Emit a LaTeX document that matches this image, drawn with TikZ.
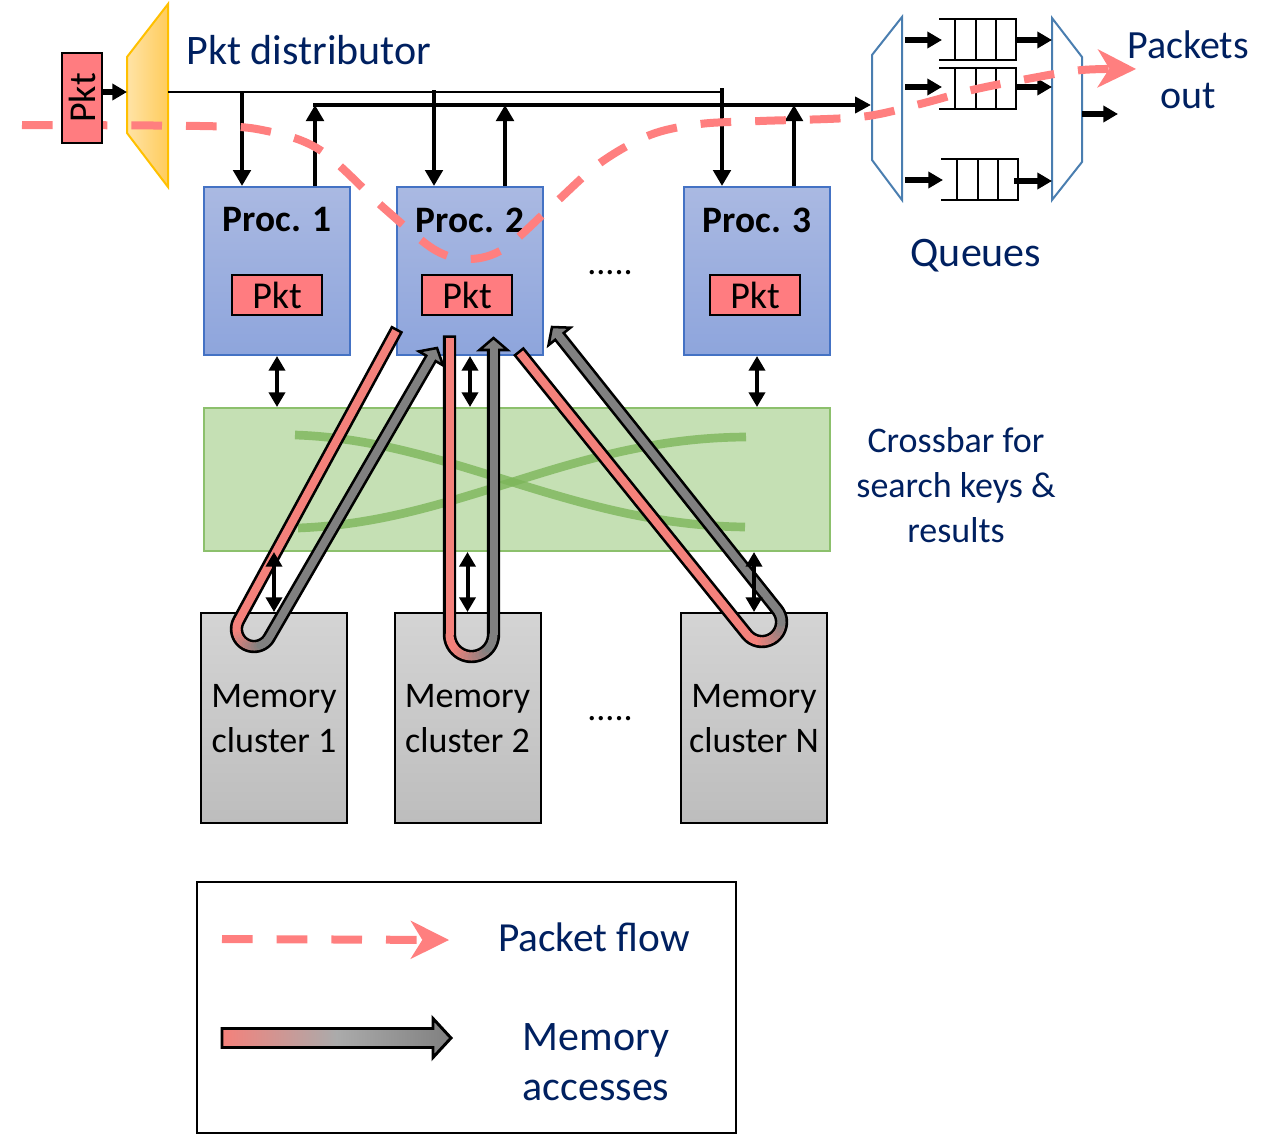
\documentclass[tikz,border=0pt]{standalone}
\usepackage{fontspec}
\setmainfont{Carlito}
\usepackage{graphicx}
\usetikzlibrary{arrows.meta,calc}
\definecolor{navy}{HTML}{002060}
\definecolor{pktred}{HTML}{FF7C80}
\definecolor{flowc}{HTML}{FF7F7F}
\definecolor{accred}{HTML}{F4817B}
\definecolor{accgray}{HTML}{808080}
\definecolor{procborder}{HTML}{4472C4}
\definecolor{proctop}{HTML}{AAB9E2}
\definecolor{procbot}{HTML}{8EA5DC}
\definecolor{xbarfill}{HTML}{C5E0B4}
\definecolor{xbarborder}{HTML}{8CC06C}
\definecolor{xbarline}{HTML}{7DB65A}
\definecolor{memtop}{HTML}{D4D4D4}
\definecolor{membot}{HTML}{BDBDBD}
\definecolor{distborder}{HTML}{FFC000}
\definecolor{distl}{HTML}{FFE3A6}
\definecolor{distr}{HTML}{FFCC5C}
\definecolor{muxc}{HTML}{4A7EB0}
\newcommand{\fsz}[2]{\fontsize{#1}{#2}\selectfont}
% memory-access U arrow: Cx Cy r angle Sx Sy Tx Ty
\newcommand{\memU}[8]{%
  \pgfmathsetmacro\uAngA{#4-90}%
  \pgfmathsetmacro\uAngB{#4-270}%
  \coordinate (uS) at (#5,#6);
  \coordinate (uT) at (#7,#8);
  \coordinate (uP1) at ({#1+#3*cos(\uAngA)},{#2+#3*sin(\uAngA)});
  \coordinate (uP2) at ({#1+#3*cos(\uAngB)},{#2+#3*sin(\uAngB)});
  \coordinate (uB) at ($(uT)!9pt!(uP2)$);
  \coordinate (uBi) at ($(uB)!2pt!(uT)$);
  \draw[line width=10pt, line join=round, shorten <=-2pt] (uS)
     \foreach \k in {0,...,36}{ -- ({#1+#3*cos(\uAngA-5*\k)},{#2+#3*sin(\uAngA-5*\k)}) } -- (uB);
  \draw[line width=1.9pt, fill=accgray, line join=miter] (uT) -- ($(uB)!10.5pt!90:(uT)$) -- ($(uB)!10.5pt!-90:(uT)$) -- cycle;
  \draw[line width=6pt, accred] (uS) -- (uP1);
  \foreach \i in {0,...,17}{%
    \pgfmathsetmacro\uPhA{\uAngA-\i*10}%
    \pgfmathsetmacro\uPhB{\uAngA-(\i+1)*10}%
    \pgfmathtruncatemacro\uPct{max(0,min(100,(\i-4)*10))}%
    \draw[line width=6pt, line cap=round, color=accgray!\uPct!accred]
      ({#1+#3*cos(\uPhA)},{#2+#3*sin(\uPhA)}) -- ({#1+#3*cos(\uPhB)},{#2+#3*sin(\uPhB)});
  }
  \draw[line width=6pt, accgray] (uP2) -- (uBi);
}
\begin{document}
\begin{tikzpicture}[x=0.75pt,y=-0.75pt,
  procbox/.style={draw=procborder, line width=1.5pt, top color=proctop, bottom color=procbot, minimum width=109.5pt, minimum height=126pt, inner sep=0pt},
  pktbox/.style={draw=black, line width=1.5pt, fill=pktred, minimum width=67.5pt, minimum height=30pt, inner sep=0pt, font=\fsz{28.5}{30}},
  proclabel/.style={font=\bfseries\fsz{28}{30}},
  membox/.style={draw=black, line width=1.5pt, top color=memtop, bottom color=membot, minimum width=109.5pt, minimum height=157.5pt, inner sep=0pt},
  memlabel/.style={align=center, font=\fsz{27}{33.75}},
  navytext/.style={text=navy},
  varrow/.style={line width=3.6pt, -{Triangle[length=12pt,width=13pt]}},
  harrow/.style={line width=3.2pt, -{Triangle[length=12pt,width=12pt]}},
  darrow/.style={line width=3pt, {Triangle[length=11pt,width=12pt]}-{Triangle[length=11pt,width=12pt]}},
  qarrow/.style={line width=3.9pt, -{Triangle[length=11pt,width=12pt]}},
  flow/.style={flowc, line width=6pt, dash pattern=on 23pt off 18pt, -{Stealth[length=29pt,width=29pt,inset=9pt,line width=0pt]}},
  xline/.style={xbarline, line width=6.5pt, opacity=0.8},
  qline/.style={line width=2pt},
  queuepic/.pic={\draw[qline] (0,0) -- (77,0) (0,41) -- (77,41);
     \foreach \xx in {16,37,57,77} {\draw[qline] (\xx,-1) -- (\xx,42);}}
]
\useasboundingbox (0,0) rectangle (1268,1135);

% crossbar
\node[draw=xbarborder, line width=1.5pt, fill=xbarfill, minimum width=469.5pt, minimum height=107.25pt, inner sep=0pt] (xbar) at (517,479.5) {};
\draw[xline] (295,435) .. controls (450,440) and (570,525) .. (745,527);
\draw[xline] (298,528) .. controls (460,522) and (570,438) .. (746,437);

% processors
\node[procbox] (p1) at (277,271) {};
\node[procbox] (p2) at (470,271) {};
\node[procbox] (p3) at (757,271) {};
\node[proclabel] (p1l) at (277,220) {Proc. 1};
\node[proclabel] (p2l) at (470,220) {Proc. 2};
\node[proclabel] (p3l) at (757,220) {Proc. 3};
\node[pktbox] (k1) at (277,295) {Pkt};
\node[pktbox] (k2) at (467,295) {Pkt};
\node[pktbox] (k3) at (755,295) {Pkt};
\node[font=\fsz{27}{30}, anchor=base] (dots1) at (610,274) {.....};

% memory clusters
\node[membox] (m1) at (274,718) {};
\node[membox] (m2) at (467.5,718) {};
\node[membox] (m3) at (754,718) {};
\node[memlabel] (m1l) at (274,719) {Memory\\cluster 1};
\node[memlabel] (m2l) at (467.5,719) {Memory\\cluster 2};
\node[memlabel] (m3l) at (754,719) {Memory\\cluster N};
\node[font=\fsz{27}{30}, anchor=base] (dots2) at (610,720) {.....};

% distributor
\draw[draw=distborder, line width=1.5pt, left color=distl, right color=distr] (127,57) -- (168,4) -- (168,187) -- (127,133) -- cycle;
\coordinate (dIn) at (127,92);
\coordinate (dOut) at (168,92);
\coordinate (j1) at (242,92);
\coordinate (j2) at (434,92);
\coordinate (j3) at (722,92);
\draw[line width=2pt] (dOut) -- (j3);
\draw[varrow] (j1) -- (j1 |- p1.north);
\draw[varrow] ($(j2)+(0,-2)$) -- (j2 |- p2.north);
\draw[varrow] ($(j3)+(0,-4)$) -- (j3 |- p3.north);

\coordinate (u1) at (315,105);
\coordinate (u2) at (505,105);
\coordinate (u3) at (794,105);
\coordinate (q0) at (871,105);
\draw[harrow] ($(u1)+(-2,0)$) -- (q0);
\draw[varrow] (u1 |- p1.north) -- (u1);
\draw[varrow] (u2 |- p2.north) -- (u2);
\draw[varrow] (u3 |- p3.north) -- (u3);

% queue multiplexers
\draw[muxc, line width=1.5pt] (902,17) -- (872,55) -- (872,160) -- (902,200) -- cycle;
\draw[muxc, line width=1.5pt] (1052,18) -- (1082,57) -- (1082,162) -- (1052,200) -- cycle;
\pic (qa) at (939,19) {queuepic};
\pic (qb) at (939,68) {queuepic};
\pic (qc) at (941,159) {queuepic};
\coordinate (qa0) at (905,40);  \coordinate (qa1) at (942,40);
\coordinate (qb0) at (905,87);  \coordinate (qb1) at (942,87);
\coordinate (qc0) at (905,180); \coordinate (qc1) at (943,180);
\coordinate (qa2) at (1016,40); \coordinate (qa3) at (1052,40);
\coordinate (qb2) at (1016,87); \coordinate (qb3) at (1052,87);
\coordinate (qc2) at (1014,181); \coordinate (qc3) at (1052,181);
\coordinate (o0) at (1082,114); \coordinate (o1) at (1118,114);
\draw[qarrow] (qa0) -- (qa1);
\draw[qarrow] (qb0) -- (qb1);
\draw[qarrow] (qc0) -- (qc1);
\draw[qarrow] (qa2) -- (qa3);
\draw[qarrow] (qb2) -- (qb3);
\draw[qarrow] (qc2) -- (qc3);
\draw[qarrow] (o0) -- (o1);

% memory accesses
\memU{254}{629}{17.5}{-61}{396}{331}{437}{348}
\memU{471.5}{634.5}{22}{-90}{449.5}{338}{493.5}{338}
\memU{762}{622}{19.5}{-128.7}{520}{353}{552}{327}

% crossbar links
\draw[darrow] (p1.south) -- (p1.south |- xbar.north);
\draw[darrow] (p2.south) -- (p2.south |- xbar.north);
\draw[darrow] (p3.south) -- (p3.south |- xbar.north);
\draw[darrow] (m1.north |- xbar.south) -- (m1.north);
\draw[darrow] (m2.north |- xbar.south) -- (m2.north);
\draw[darrow] (m3.north |- xbar.south) -- (m3.north);

% packet flow
\coordinate (fs) at (22,125);
\coordinate (fe) at (1136,69);
\draw[flow] plot[smooth, tension=0.55] coordinates {(fs) (200,126) (262,130) (320,150) (385,209) (435,250) (470,259) (505,248) (553,205) (600,163) (650,135) (700,124) (760,121) (860,117) (920,104) (972,90) (1027,79) (1082,70) (fe)};

% input packet
\node[pktbox, minimum width=30pt, minimum height=67.5pt] (pin) at (82,98) {\rotatebox{90}{Pkt}};
\draw[qarrow] (pin.east |- dIn) -- (dIn);

% labels
\node[navytext, anchor=west, font=\fsz{31.5}{35}] (dlab) at (182,50) {Pkt distributor};
\node[navytext, align=center, font=\fsz{30}{37.5}] (pout) at (1188,70) {Packets\\out};
\node[navytext, font=\fsz{31.5}{35}] (qlab) at (976,256) {Queues};
\node[navytext, align=center, font=\fsz{27}{33.75}] (xlab) at (956,485) {Crossbar for\\search keys \&\\results};

% legend
\node[draw, line width=1.5pt, minimum width=404.25pt, minimum height=188.25pt, inner sep=0pt] (leg) at (466.5,1007.5) {};
\coordinate (lf0) at (222,939);
\coordinate (lf1) at (449,940);
\draw[flow] (lf0) -- (lf1);
\coordinate (lg0) at (222,1038);
\draw[line width=2.2pt, line join=miter, left color=accred, right color=accgray, middle color=black!33]
  ($(lg0)+(0,-9.5)$) -- ++(211,0) -- ++(0,-10) -- ($(lg0)+(229,0)$) -- ($(lg0)+(211,19.5)$) -- ++(0,-10) -- ($(lg0)+(0,9.5)$) -- cycle;
\node[navytext, font=\fsz{31}{35}] (lt1) at (594,937) {Packet flow};
\node[navytext, align=center, font=\fsz{31.5}{37.5}] (lt2) at (596,1062) {Memory\\accesses};
\end{tikzpicture}
\end{document}
